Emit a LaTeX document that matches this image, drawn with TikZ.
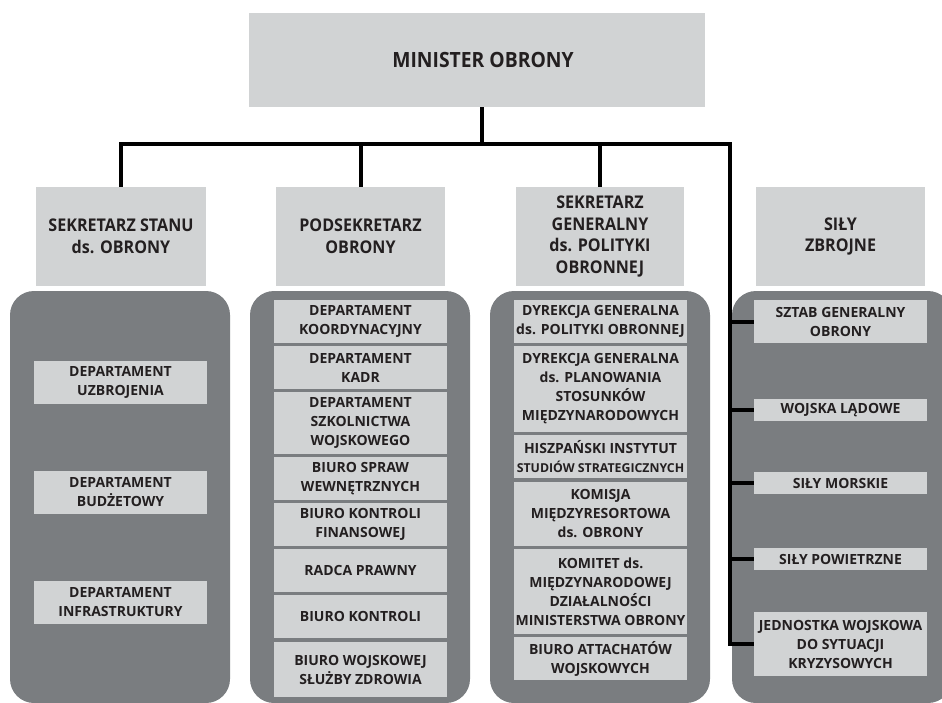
\documentclass[tikz,border=0pt]{standalone}
\usepackage{fontspec}
\setmainfont{Open Sans}
\newfontfamily\hdrfam[FakeStretch=0.92]{Open Sans}
\definecolor{lightg}{RGB}{209,211,212}
\definecolor{darkg}{RGB}{122,125,128}
\definecolor{txt}{RGB}{35,31,32}
\newcommand\obox[7]{\node[#1, minimum width={#5pt-#3pt}, minimum height={#6pt-#4pt}] (#2) at ({(#3+#5)/2},{(#4+#6)/2}) {#7};}
\tikzset{
  minbox/.style={fill=lightg, inner sep=0pt, align=center, text=txt, font=\hdrfam\bfseries\fontsize{21}{26}\selectfont},
  hdrbox/.style={fill=lightg, inner sep=0pt, align=center, text=txt, font=\hdrfam\bfseries\fontsize{17.5}{21.8}\selectfont},
  subbox/.style={fill=lightg, inner sep=0pt, align=center, text=txt, font=\bfseries\fontsize{14}{19}\selectfont},
  panel/.style={fill=darkg, inner sep=0pt, rounded corners=24pt},
  conn/.style={line width=4pt, line join=miter, black}
}
\begin{document}
\begin{tikzpicture}[x=1pt,y=-1pt]
\useasboundingbox (0,0) rectangle (942,702);
\clip (0,0) rectangle (942,702);
% top
\obox{minbox}{min}{249}{13}{705}{107}{\hspace*{12pt}MINISTER OBRONY}
% headers
\obox{hdrbox}{h1}{36}{187}{206}{286}{SEKRETARZ STANU\\ds. OBRONY}
\obox{hdrbox}{h2}{276}{187}{445}{286}{PODSEKRETARZ\\OBRONY}
\obox{hdrbox}{h3}{516}{187}{684}{286}{SEKRETARZ\\GENERALNY\\ds. POLITYKI\\OBRONNEJ}
\obox{hdrbox}{h4}{756}{187}{925}{286}{SIŁY\\ZBROJNE}
% panels
\obox{panel}{p1}{10}{291}{230}{703}{}
\obox{panel}{p2}{250}{291}{470}{703}{}
\obox{panel}{p3}{490}{291}{710}{703}{}
\obox{panel}{p4}{732}{291}{952}{703}{}
% column 1
\obox{subbox}{d11}{34}{361}{207}{404}{DEPARTAMENT\\UZBROJENIA}
\obox{subbox}{d12}{34}{471}{207}{514}{DEPARTAMENT\\BUDŻETOWY}
\obox{subbox}{d13}{34}{581}{207}{624}{DEPARTAMENT\\INFRASTRUKTURY}
% column 2
\obox{subbox}{d21}{274}{300}{447}{343}{DEPARTAMENT\\KOORDYNACYJNY}
\obox{subbox}{d22}{274}{346}{447}{389}{DEPARTAMENT\\KADR}
\obox{subbox}{d23}{274}{392}{447}{454}{DEPARTAMENT\\SZKOLNICTWA\\WOJSKOWEGO}
\obox{subbox}{d24}{274}{457}{447}{500}{BIURO SPRAW\\WEWNĘTRZNYCH}
\obox{subbox}{d25}{274}{503}{447}{546}{BIURO KONTROLI\\FINANSOWEJ}
\obox{subbox}{d26}{274}{549}{447}{592}{RADCA PRAWNY}
\obox{subbox}{d27}{274}{595}{447}{638}{BIURO KONTROLI}
\obox{subbox}{d28}{274}{642}{447}{697}{BIURO WOJSKOWEJ\\SŁUŻBY ZDROWIA}
% column 3
\obox{subbox}{d31}{514}{300}{687}{343}{DYREKCJA GENERALNA\\ds. POLITYKI OBRONNEJ}
\obox{subbox}{d32}{514}{346}{687}{432}{DYREKCJA GENERALNA\\ds. PLANOWANIA\\STOSUNKÓW\\MIĘDZYNARODOWYCH}
\obox{subbox}{d33}{514}{435}{687}{478}{HISZPAŃSKI INSTYTUT\\{\fontsize{12.3}{19}\selectfont STUDIÓW STRATEGICZNYCH}}
\obox{subbox}{d34}{514}{482}{687}{546}{KOMISJA\\MIĘDZYRESORTOWA\\ds. OBRONY}
\obox{subbox}{d35}{514}{549}{687}{634}{KOMITET ds.\\MIĘDZYNARODOWEJ\\DZIAŁALNOŚCI\\MINISTERSTWA OBRONY}
\obox{subbox}{d36}{514}{637}{687}{680}{BIURO ATTACHATÓW\\WOJSKOWYCH}
% column 4
\obox{subbox}{d41}{754}{300}{927}{343}{SZTAB GENERALNY\\OBRONY}
\obox{subbox}{d42}{754}{399}{927}{421}{WOJSKA LĄDOWE}
\obox{subbox}{d43}{754}{472}{927}{494}{SIŁY MORSKIE}
\obox{subbox}{d44}{754}{548}{927}{570}{SIŁY POWIETRZNE}
\obox{subbox}{d45}{754}{612}{927}{676}{JEDNOSTKA WOJSKOWA\\DO SYTUACJI\\KRYZYSOWYCH}
% connectors
\coordinate (j0) at (482,144);
\coordinate (jr) at (730,144);
\draw[conn] (min.south -| j0) -- (j0);
\draw[conn] (h1.north) |- (jr) -- (jr |- d45.west) -- (d45.west);
\draw[conn] (h2.north) -- (h2.north |- j0);
\draw[conn] (h3.north) -- (h3.north |- j0);
\draw[conn] (jr |- d41.west) -- (d41.west);
\draw[conn] (jr |- d42.west) -- (d42.west);
\draw[conn] (jr |- d43.west) -- (d43.west);
\draw[conn] (jr |- d44.west) -- (d44.west);
\end{tikzpicture}
\end{document}
